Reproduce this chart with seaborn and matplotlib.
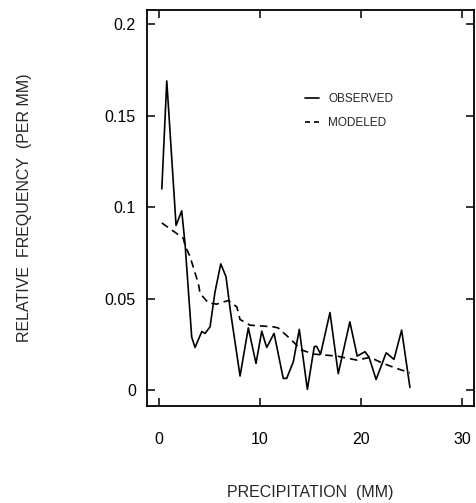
import numpy as np
import pandas as pd
import matplotlib
matplotlib.use("Agg")
import matplotlib.pyplot as plt
import seaborn as sns

# Valores (mm, frecuencia relativa por mm)
obs_x = [0.27, 0.76, 1.68, 2.24, 2.57, 3.23, 3.56, 4.23, 4.55, 5.05, 5.54, 6.11,
         6.63, 7.03, 8.02, 8.84, 9.6, 10.17, 10.66, 11.39, 12.3, 12.64, 13.3,
         13.89, 14.69, 15.37, 15.6, 16.0, 16.93, 17.75, 18.9, 19.63, 20.4, 20.8,
         21.5, 22.5, 23.27, 24.03, 24.85]
obs_y = [0.110, 0.169, 0.090, 0.098, 0.080, 0.029, 0.0233, 0.032, 0.031, 0.0346,
         0.0537, 0.069, 0.062, 0.0446, 0.0077, 0.034, 0.0146, 0.0322, 0.0233,
         0.031, 0.0064, 0.0064, 0.0155, 0.0332, 0.0004, 0.0237, 0.024, 0.0197,
         0.0424, 0.009, 0.0373, 0.0186, 0.021, 0.018, 0.0058, 0.0204, 0.0168,
         0.0328, 0.0015]

mod_x = [0.27, 2.4, 2.57, 3.07, 3.9, 4.06, 4.88, 5.7, 6.86, 7.7, 8.02, 9.0, 11.3,
         11.8, 13.0, 14.1, 15.3, 17.6, 19.6, 20.9, 22.2, 23.5, 24.85]
mod_y = [0.0914, 0.083, 0.079, 0.0729, 0.058, 0.0528, 0.0477, 0.047, 0.049,
         0.0455, 0.0386, 0.0355, 0.0346, 0.034, 0.028, 0.022, 0.0197, 0.0186,
         0.0164, 0.0179, 0.0146, 0.0119, 0.0095]

df = pd.concat([
    pd.DataFrame({"x": obs_x, "y": obs_y, "serie": "OBSERVED"}),
    pd.DataFrame({"x": mod_x, "y": mod_y, "serie": "MODELED"}),
])

sns.set_style("ticks")
plt.rcParams["font.family"] = ["Liberation Sans", "DejaVu Sans"]

fig = plt.figure(figsize=(4.76, 5.03), dpi=100)
ax = fig.add_axes([0.3088, 0.1928, 0.687, 0.787])

sns.lineplot(data=df, x="x", y="y", style="serie", color="black",
             dashes={"OBSERVED": "", "MODELED": (4.5, 3)},
             estimator=None, sort=False, linewidth=1.2, ax=ax)

ax.set_xlim(-1.2, 31.2)
ax.set_ylim(-0.0087, 0.2077)
ax.set_xticks([0, 10, 20, 30])
ax.set_xticklabels(["0", "10", "20", "30"])
ax.set_yticks([0, 0.05, 0.1, 0.15, 0.2])
ax.set_yticklabels(["0", "0.05", "0.1", "0.15", "0.2"])
ax.tick_params(direction="in", length=6, width=1.1, labelsize=11.5,
               top=True, right=True, color="black", labelcolor="black")
ax.tick_params(axis="x", pad=19)
ax.tick_params(axis="y", pad=8)
for sp in ax.spines.values():
    sp.set_linewidth(1.3)
    sp.set_color("black")

ax.set_xlabel("PRECIPITATION  (MM)", fontsize=11.5)
ax.set_ylabel("RELATIVE  FREQUENCY  (PER MM)", fontsize=11.5)
ax.xaxis.set_label_coords(0.5, -0.2)
ax.yaxis.set_label_coords(-0.352, 0.5)

leg = ax.legend(loc="upper left", bbox_to_anchor=(0.45, 0.817), frameon=False,
                fontsize=8.5, handlelength=1.2, handletextpad=0.8,
                labelspacing=1.0, title=None)
# guiones cortos en la leyenda: "- -"
leg.get_lines()[1].set_dashes((3.0, 2.4))

plt.savefig("out.png", dpi=100)
